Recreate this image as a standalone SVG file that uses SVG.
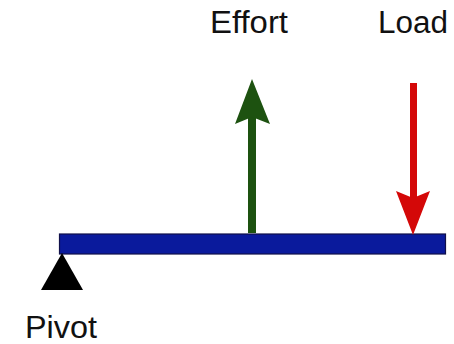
<svg xmlns="http://www.w3.org/2000/svg" width="454" height="344" viewBox="0 0 454 344">
<style>
.lbl{font-family:"Liberation Sans",Arial,sans-serif;font-size:31px;fill:#111}
</style>
<rect width="454" height="344" fill="#fff"/>
<g id="beam"><rect x="59.5" y="234" width="386" height="20" fill="#0a1a9c" stroke="#10104a" stroke-width="1.2"/></g>
<g id="pivot"><polygon points="62,253 83,290 41,290" fill="#000"/><text class="lbl" x="25" y="338" textLength="72" lengthAdjust="spacingAndGlyphs">Pivot</text></g>
<g id="connectors">
<g id="effort-arrow"><rect x="248" y="116" width="8" height="117" fill="#1d5210"/><polygon points="252,79 270,124 252,117 235,124" fill="#1d5210"/></g>
<g id="load-arrow"><rect x="410" y="83" width="7" height="116" fill="#d40808"/><polygon points="413,235 430,191 413,198 396,191" fill="#d40808"/></g>
</g>
<g id="effort"><text class="lbl" x="210" y="33" textLength="78" lengthAdjust="spacingAndGlyphs">Effort</text></g>
<g id="load"><text class="lbl" x="378" y="33" textLength="70" lengthAdjust="spacingAndGlyphs">Load</text></g>
</svg>
